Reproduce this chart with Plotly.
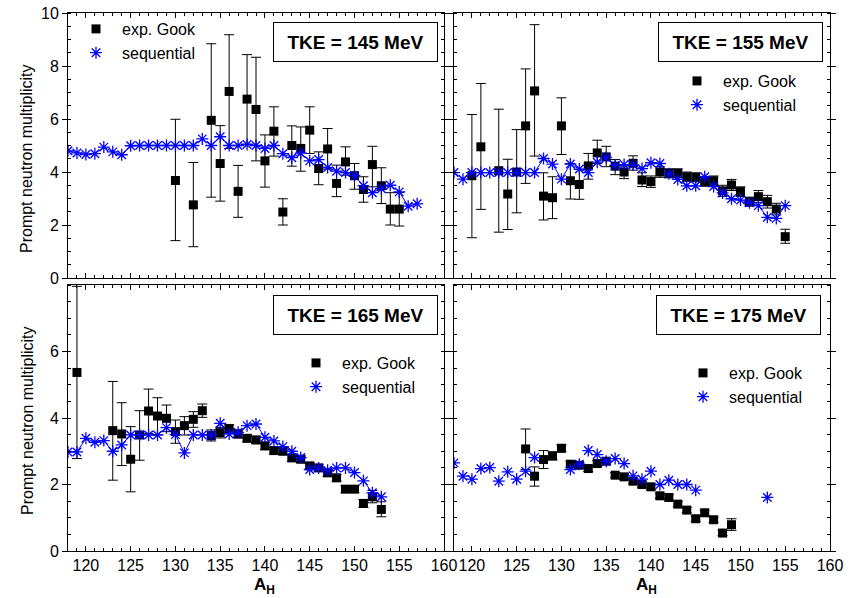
import plotly.graph_objects as go

# ---------------- data ----------------
# TKE = 145 MeV
seq145_A = list(range(118, 158))
seq145_v = [4.80, 4.72, 4.66, 4.69, 4.94, 4.76, 4.65, 4.99, 5.0, 5.0, 5.0, 5.0, 5.0, 5.0, 5.0, 5.25,
            5.0, 5.33, 5.0, 5.0, 5.04, 5.0, 4.89, 5.0, 4.69, 4.54, 4.71, 4.42, 4.47, 4.17, 4.03, 3.98,
            3.86, 3.48, 3.22, 3.37, 3.50, 3.25, 2.71, 2.80]
exp145_A = [130, 132, 134, 135, 136, 137, 138, 139, 140, 141, 142, 143, 144, 145, 146, 147, 148, 149,
            150, 151, 152, 153, 154, 155]
exp145_v = [3.68, 2.76, 5.95, 4.32, 7.04, 3.27, 6.75, 6.36, 4.42, 5.54, 2.49, 5.0, 4.89, 5.58, 4.13,
            4.87, 3.57, 4.38, 3.86, 3.34, 4.28, 3.48, 2.6, 2.6]
exp145_hi = [5.99, 4.36, 8.84, 5.75, 9.18, 4.25, 8.43, 8.33, 5.40, 6.46, 2.99, 5.74, 5.70, 6.46, 4.76,
             5.64, 4.26, 4.95, 4.32, 3.82, 4.97, 4.16, 3.22, 3.22]
exp145_lo = [1.41, 1.18, 3.05, 2.90, 4.89, 2.29, 5.05, 4.42, 3.43, 4.6, 2.0, 4.22, 4.03, 4.7, 3.52,
             4.11, 3.07, 3.88, 3.35, 2.86, 3.44, 2.81, 2.0, 1.96]

# TKE = 155 MeV
seq155_A = list(range(118, 156))
seq155_v = [3.98, 3.73, 3.98, 3.98, 3.98, 3.98, 3.98, 3.98, 3.98, 3.98, 4.51, 4.30, 3.73, 4.30, 4.11,
            3.98, 4.37, 4.55, 4.25, 4.28, 4.26, 4.13, 4.35, 4.32, 3.93, 3.72, 3.48, 3.48, 3.82, 3.45,
            3.21, 2.99, 2.94, 2.84, 2.73, 2.29, 2.25, 2.73]
exp155_A = [120, 121, 123, 124, 125, 126, 127, 128, 129, 130, 131, 132, 133, 134, 135, 136, 137, 138,
            139, 140, 141, 142, 143, 144, 145, 146, 147, 148, 149, 150, 151, 152, 153, 154, 155]
exp155_v = [3.86, 4.95, 4.05, 3.17, 4.0, 5.74, 7.06, 3.09, 3.03, 5.74, 3.67, 3.53, 4.23, 4.72, 4.57,
            4.22, 4.0, 4.33, 3.70, 3.64, 4.0, 3.95, 3.95, 3.82, 3.80, 3.64, 3.67, 3.29, 3.51, 3.26,
            2.88, 3.07, 2.88, 2.60, 1.56]
exp155_hi = [6.17, 7.34, 6.37, 4.48, 5.6, 7.89, 9.56, 3.97, 3.82, 6.80, 4.32, 4.1, 4.7, 5.2, 4.97,
             4.47, 4.23, 4.61, 3.97, 3.85, 4.2, 4.12, 4.12, 4.0, 3.97, 3.82, 3.85, 3.5, 3.72, 3.44,
             3.05, 3.3, 3.12, 2.82, 1.84]
exp155_lo = [1.52, 2.59, 1.73, 1.83, 2.46, 3.57, 4.6, 2.19, 2.24, 4.66, 2.98, 2.97, 3.73, 4.32, 4.2,
             3.9, 3.75, 4.07, 3.45, 3.42, 3.8, 3.78, 3.78, 3.65, 3.63, 3.46, 3.49, 3.08, 3.3, 3.08,
             2.71, 2.84, 2.64, 2.38, 1.31]

# TKE = 165 MeV
seq165_A = list(range(118, 154))
seq165_v = [2.98, 2.98, 3.39, 3.27, 3.32, 3.0, 3.19, 3.49, 3.49, 3.49, 3.49, 3.71, 3.5, 2.95, 3.49,
            3.49, 3.49, 3.84, 3.52, 3.57, 3.77, 3.82, 3.42, 3.31, 3.14, 3.0, 2.81, 2.45, 2.5, 2.43,
            2.5, 2.5, 2.36, 2.11, 1.75, 1.63]
exp165_A = [119, 123, 124, 125, 126, 127, 128, 129, 130, 131, 132, 133, 134, 135, 136, 137, 138, 139,
            140, 141, 142, 143, 144, 145, 146, 147, 148, 149, 150, 151, 152, 153]
exp165_v = [5.37, 3.62, 3.52, 2.76, 3.49, 4.21, 4.06, 3.99, 3.59, 3.77, 3.96, 4.22, 3.47, 3.56, 3.67,
            3.52, 3.39, 3.34, 3.16, 3.02, 3.0, 2.8, 2.76, 2.56, 2.5, 2.35, 2.2, 1.86, 1.86, 1.43, 1.63,
            1.25]
exp165_hi = [7.96, 5.1, 4.46, 3.74, 4.22, 4.87, 4.61, 4.39, 3.94, 4.04, 4.19, 4.42, 3.64, 3.72, 3.8,
             3.64, 3.5, 3.45, 3.27, 3.12, 3.1, 2.9, 2.86, 2.65, 2.6, 2.45, 2.3, 1.96, 1.96, 1.55,
             1.82, 1.48]
exp165_lo = [2.78, 2.13, 2.57, 1.78, 2.73, 3.54, 3.49, 3.59, 3.24, 3.49, 3.72, 4.02, 3.31, 3.4, 3.54,
             3.4, 3.28, 3.23, 3.05, 2.92, 2.9, 2.7, 2.66, 2.47, 2.4, 2.25, 2.1, 1.76, 1.76, 1.31,
             1.45, 1.03]

# TKE = 175 MeV
seq175_A = [118, 119, 120, 121, 122, 123, 124, 125, 126, 127, 131, 132, 133, 134, 135, 136, 137, 138,
            139, 140, 141, 142, 143, 144, 145, 153]
seq175_v = [2.65, 2.25, 2.16, 2.48, 2.51, 2.10, 2.38, 2.16, 2.40, 2.81, 2.45, 2.61, 3.02, 2.90, 2.70,
            2.78, 2.63, 2.26, 2.16, 2.40, 2.0, 2.13, 2.0, 2.0, 1.83, 1.61]
exp175_A = [126, 127, 128, 129, 130, 131, 132, 133, 134, 135, 136, 137, 138, 139, 140, 141, 142, 143,
            144, 145, 146, 147, 148, 149]
exp175_v = [3.07, 2.25, 2.75, 2.86, 3.09, 2.61, 2.58, 2.48, 2.63, 2.70, 2.28, 2.23, 2.10, 2.0, 1.93,
            1.66, 1.61, 1.41, 1.23, 0.97, 1.15, 0.94, 0.54, 0.79]
exp175_hi = [3.67, 2.53, 3.02, 2.98, 3.2, 2.7, 2.67, 2.57, 2.72, 2.79, 2.36, 2.31, 2.18, 2.08, 2.01,
             1.74, 1.69, 1.49, 1.31, 1.05, 1.23, 1.02, 0.62, 0.97]
exp175_lo = [2.45, 1.95, 2.48, 2.74, 2.98, 2.52, 2.49, 2.39, 2.54, 2.61, 2.2, 2.15, 2.02, 1.92, 1.85,
             1.58, 1.53, 1.33, 1.15, 0.89, 1.07, 0.86, 0.46, 0.62]

panel_titles = ["TKE = 145 MeV", "TKE = 155 MeV", "TKE = 165 MeV", "TKE = 175 MeV"]
x_ticks = [120, 125, 130, 135, 140, 145, 150, 155, 160]
legend_names = ["exp. Gook", "sequential"]

# ---------------- layout helpers ----------------
W, H = 865, 598
FONT = "Arial, Liberation Sans, sans-serif"


def fx(px):
    return px / W


def fy(py):
    return 1 - py / H


panels = [
    dict(x0=68, x1=444, y0=13, y1=278, ymax=10,
         seq=(seq145_A, seq145_v), exp=(exp145_A, exp145_v, exp145_hi, exp145_lo),
         line=True, box=(355.5, 42), leg=(70, 12)),
    dict(x0=454, x1=830, y0=13, y1=278, ymax=10,
         seq=(seq155_A, seq155_v), exp=(exp155_A, exp155_v, exp155_hi, exp155_lo),
         line=True, box=(740, 42), leg=(671, 64)),
    dict(x0=68, x1=444, y0=285, y1=551, ymax=8,
         seq=(seq165_A, seq165_v), exp=(exp165_A, exp165_v, exp165_hi, exp165_lo),
         line=True, box=(355.5, 315), leg=(290, 346)),
    dict(x0=454, x1=830, y0=285, y1=551, ymax=8,
         seq=(seq175_A, seq175_v), exp=(exp175_A, exp175_v, exp175_hi, exp175_lo),
         line=False, box=(738.5, 314.5), leg=(677, 356)),
]

fig = go.Figure()
layout = dict(
    width=W, height=H, margin=dict(l=0, r=0, t=0, b=0, autoexpand=False),
    paper_bgcolor="white", plot_bgcolor="white",
    font=dict(family=FONT, size=16, color="black"),
    annotations=[],
)

for i, p in enumerate(panels):
    n = i + 1
    xa = "x" if n == 1 else f"x{n}"
    ya = "y" if n == 1 else f"y{n}"
    legname = "legend" if n == 1 else f"legend{n}"
    sA, sv = p["seq"]
    eA, ev, ehi, elo = p["exp"]
    if p["line"]:
        fig.add_trace(go.Scatter(x=sA, y=sv, mode="lines", xaxis=xa, yaxis=ya,
                                 line=dict(color="#0000ff", width=1), showlegend=False,
                                 hoverinfo="skip"))
    fig.add_trace(go.Scatter(
        x=eA, y=ev, mode="markers", xaxis=xa, yaxis=ya, name=legend_names[0],
        legend=legname,
        marker=dict(symbol="square", size=9, color="black"),
        error_y=dict(type="data", symmetric=False,
                     array=[h - v for h, v in zip(ehi, ev)],
                     arrayminus=[v - l for l, v in zip(elo, ev)],
                     color="black", thickness=1, width=5)))
    fig.add_trace(go.Scatter(
        x=sA, y=sv, mode="markers", xaxis=xa, yaxis=ya, name=legend_names[1],
        legend=legname,
        marker=dict(symbol="asterisk-open", size=10, color="#0000ff",
                    line=dict(color="#0000ff", width=1.3))))

    bottom = n >= 3
    left = n in (1, 3)
    xkey = "xaxis" if n == 1 else f"xaxis{n}"
    ykey = "yaxis" if n == 1 else f"yaxis{n}"
    layout[xkey] = dict(
        domain=[fx(p["x0"]), fx(p["x1"])], range=[118, 160], anchor=ya,
        tickmode="array", tickvals=x_ticks, showticklabels=bottom,
        ticks="inside", ticklen=5, tickcolor="black",
        minor=dict(tickmode="linear", tick0=118, dtick=1, ticks="inside", ticklen=3,
                   tickcolor="black"),
        showline=True, linecolor="black", linewidth=1, mirror="allticks",
        showgrid=False, zeroline=False, tickfont=dict(size=16, family=FONT),
    )
    yt = [0, 2, 4, 6, 8, 10] if p["ymax"] == 10 else [0, 2, 4, 6]
    layout[ykey] = dict(
        domain=[fy(p["y1"]), fy(p["y0"])], range=[0, p["ymax"]], anchor=xa,
        tickmode="array", tickvals=yt, showticklabels=left,
        ticks="outside", ticklen=5, tickcolor="black",
        minor=dict(tickmode="linear", tick0=0, dtick=0.5, ticks="inside", ticklen=3,
                   tickcolor="black"),
        showline=True, linecolor="black", linewidth=1, mirror="allticks",
        showgrid=False, zeroline=False, tickfont=dict(size=16, family=FONT),
    )
    layout[legname] = dict(
        x=fx(p["leg"][0]), y=fy(p["leg"][1]), xanchor="left", yanchor="top",
        bgcolor="rgba(0,0,0,0)", borderwidth=0, font=dict(size=16, family=FONT),
        tracegroupgap=0, itemwidth=42,
    )
    # TKE boxes
    layout["annotations"].append(dict(
        text=f"<b>{panel_titles[i]}</b>", x=fx(p["box"][0]), y=fy(p["box"][1]),
        xref="paper", yref="paper", xanchor="center", yanchor="middle", showarrow=False,
        font=dict(size=19, family=FONT), bordercolor="black", borderwidth=1,
        bgcolor="white", width=161, height=36, borderpad=1))

# y-axis titles
for cy in (159, 421):
    layout["annotations"].append(dict(
        text="Prompt neutron multiplicity", x=fx(27), y=fy(cy), xref="paper", yref="paper",
        xanchor="center", yanchor="middle", showarrow=False, textangle=-90,
        font=dict(size=16, family=FONT)))
# x-axis titles
for cx in (264, 646):
    layout["annotations"].append(dict(
        text="<b>A</b><sub><b>H</b></sub>", x=fx(cx), y=fy(586), xref="paper", yref="paper",
        xanchor="center", yanchor="middle", showarrow=False,
        font=dict(size=17, family=FONT)))

fig.update_layout(**layout)
fig.write_html("out.html")
